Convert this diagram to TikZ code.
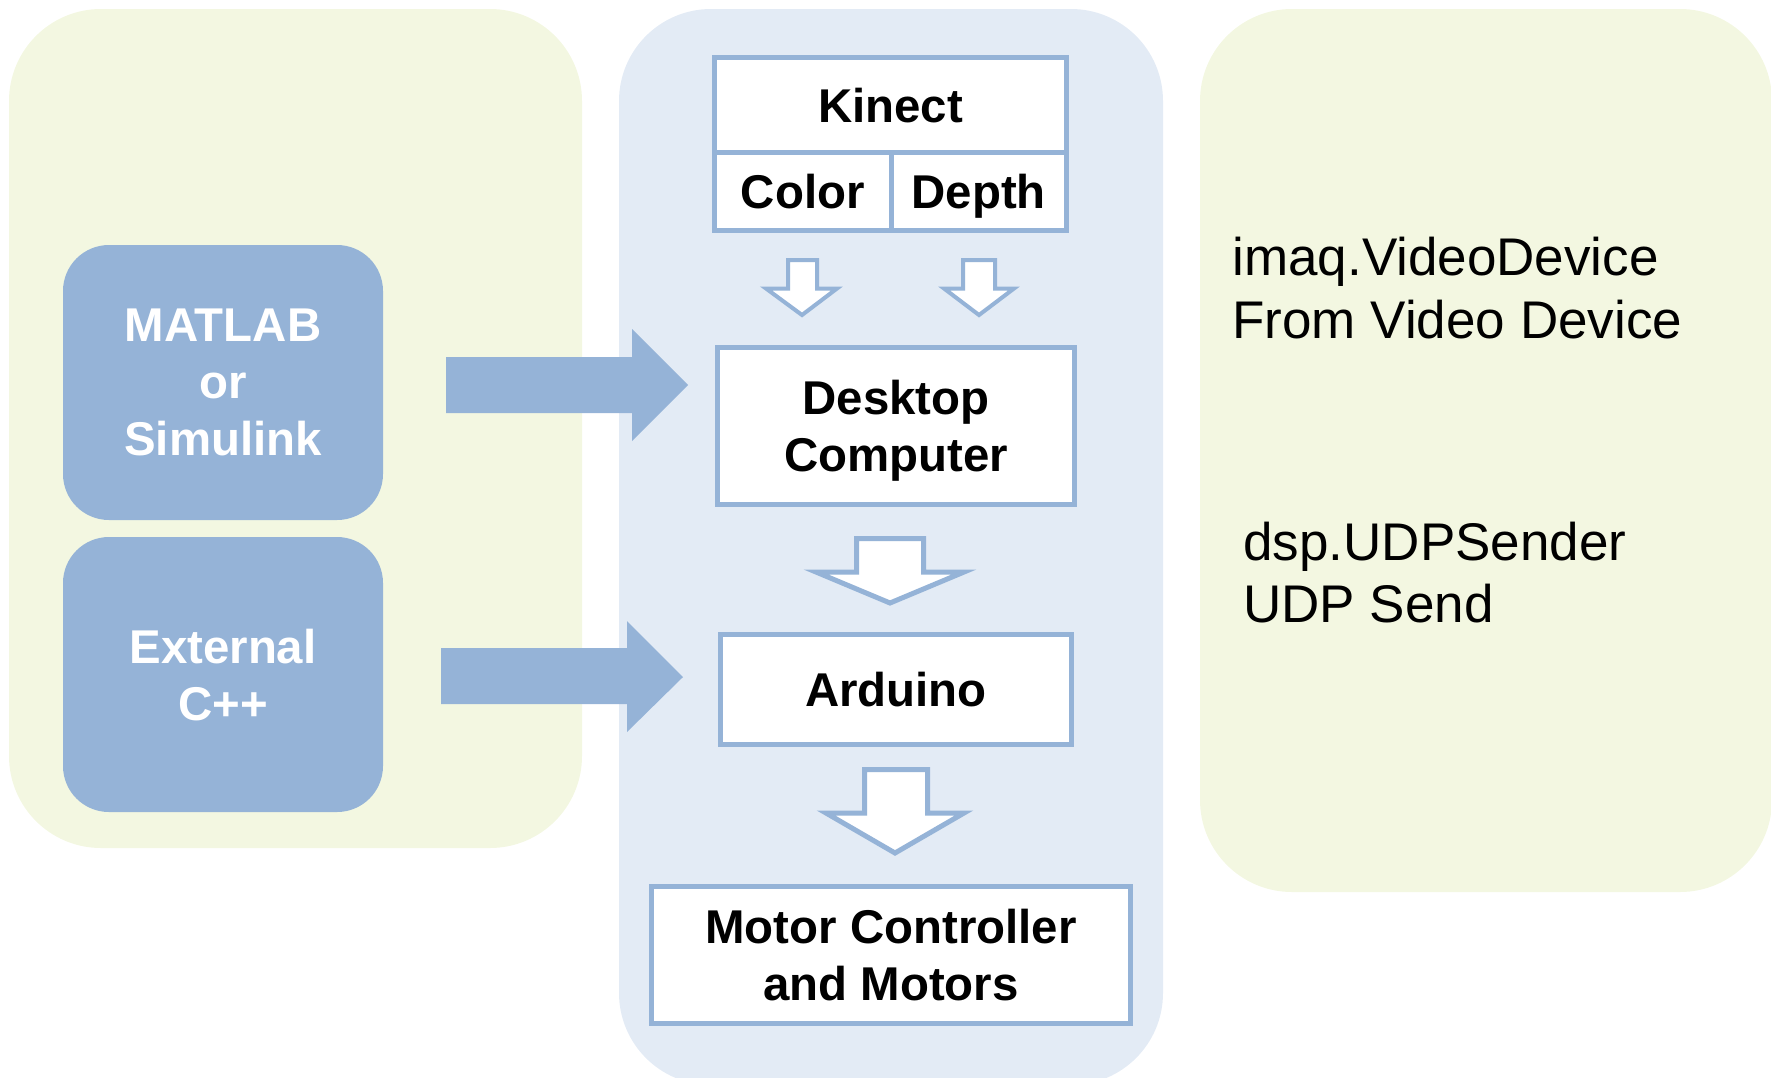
\documentclass[tikz,border=0pt]{standalone}
\usepackage{fontspec}
\setmainfont{Liberation Sans}
\definecolor{panelgreen}{RGB}{243,247,225}
\definecolor{panelblue}{RGB}{227,235,245}
\definecolor{accblue}{RGB}{149,179,215}
\begin{document}
\begin{tikzpicture}[x=0.5pt,y=-0.5pt,
  boxtext/.style={font=\fontsize{23.7}{28.5}\selectfont\bfseries, align=center, text depth=0pt},
  whitebox/.style={boxtext, draw=accblue, line width=2.5pt, fill=white, inner sep=0pt},
  swbox/.style={boxtext, text=white, fill=accblue, rounded corners=23pt, inner sep=0pt, minimum width=160pt, minimum height=137.5pt},
  apitext/.style={font=\fontsize{26.5}{31.5}\selectfont, anchor=base west, inner sep=0pt},
  blockarrow/.style={fill=accblue, draw=none},
  hollowarrow/.style={fill=white, draw=accblue, line join=miter},
  panel/.style={draw=none, rounded corners=46pt}]
\useasboundingbox (0,0) rectangle (1771,1077);
\clip (0,0) rectangle (1771,1077);
% panels
\fill[panel, fill=panelgreen] (9,9) rectangle (582,848);
\fill[panel, fill=panelblue] (619,9) rectangle (1163,1085);
\fill[panel, fill=panelgreen] (1200,9) rectangle (1772,892);
% left software boxes
\node[swbox] (matlab) at (223,382.5) {MATLAB\\or\\Simulink};
\node[swbox] (extc) at (223,674.5) {External\\C++};
% Kinect
\node[whitebox, minimum width=176pt, minimum height=47.5pt] (kinect) at (890.5,105) {Kinect};
\node[whitebox, minimum width=88.25pt, minimum height=39pt] (color) at (802.75,191.5) {Color};
\node[whitebox, minimum width=87.75pt, minimum height=39pt] (depth) at (978.75,191.5) {Depth};
% main chain
\node[whitebox, minimum width=178.5pt, minimum height=78.5pt] (desktop) at (896,426) {Desktop\\Computer};
\node[whitebox, minimum width=175.5pt, minimum height=55pt] (arduino) at (896,689.5) {Arduino};
\node[whitebox, minimum width=239.5pt, minimum height=68.5pt] (motor) at (891,955) {Motor Controller\\and Motors};
% big right arrows
\fill[blockarrow] (446,357) -- (632,357) -- (632,329) -- (688,385) -- (632,441) -- (632,413) -- (446,413) -- cycle;
\fill[blockarrow] (441,648) -- (627,648) -- (627,621) -- (683,677) -- (627,732) -- (627,704) -- (441,704) -- cycle;
% small hollow down arrows
\draw[hollowarrow, line width=2pt] (788,260) -- (817,260) -- (817,288.5) -- (837,288.5) -- (802,315) -- (766,288.5) -- (788,288.5) -- cycle;
\draw[hollowarrow, line width=2pt] (963,260) -- (995,260) -- (995,288.5) -- (1014,288.5) -- (979,315) -- (944,288.5) -- (963,288.5) -- cycle;
% bigger hollow down arrows
\draw[hollowarrow, line width=2.5pt] (856.5,538.5) -- (923.5,538.5) -- (923.5,572) -- (964,572) -- (890,603) -- (816,572) -- (856.5,572) -- cycle;
\draw[hollowarrow, line width=2.5pt] (864.5,769.5) -- (927.5,769.5) -- (927.5,813) -- (964,813) -- (895,853) -- (826,813) -- (864.5,813) -- cycle;
% API texts
\node[apitext] (imaq) at (1232,275) {imaq.VideoDevice};
\node[apitext] (fvd) at (1232,338) {From Video Device};
\node[apitext] (dsp) at (1243,560) {dsp.UDPSender};
\node[apitext] (udp) at (1243,622) {UDP Send};
\end{tikzpicture}
\end{document}
